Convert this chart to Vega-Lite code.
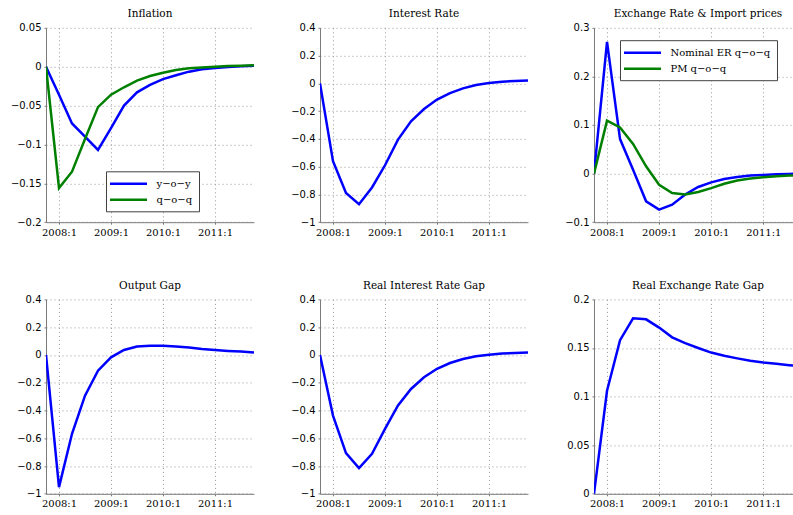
{
  "$schema": "https://vega.github.io/schema/vega-lite/v6.json",
  "padding": {"left": 10, "top": 8.8, "right": 0, "bottom": 0},
  "autosize": {"type": "pad"},
  "background": "white",
  "columns": 3,
  "bounds": "flush",
  "spacing": {"row": 76.6, "column": 66},
  "resolve": {"scale": {"color": "independent"}, "legend": {"color": "independent"}},
  "config": {
    "view": {"stroke": null},
    "font": "DejaVu Sans",
    "title": {"font": "DejaVu Serif", "fontSize": 10.5, "fontWeight": "normal", "baseline": "alphabetic", "offset": 3, "frame": "group", "color": "#000000"},
    "axis": {"domainColor": "#7a7a7a", "domainWidth": 1, "tickColor": "#7a7a7a", "tickSize": 2, "grid": true, "gridColor": "#9a9a9a", "gridDash": [1, 3], "gridOpacity": 1, "gridWidth": 1, "labelColor": "#000000", "labelFlush": false, "labelOverlap": false},
    "axisX": {"labelFont": "DejaVu Serif", "labelFontSize": 10, "labelPadding": 3},
    "axisY": {"labelFont": "DejaVu Sans", "labelFontSize": 10, "labelPadding": 3},
    "legend": {"strokeColor": "#404040", "fillColor": "white", "padding": 6, "labelFont": "DejaVu Serif", "labelFontSize": 10, "labelColor": "#000000", "symbolStrokeWidth": 2.5, "rowPadding": 4}
  },
  "datasets": {
    "inflation": [
      {"t": 0, "series": "y−o−y", "value": 0},
      {"t": 1, "series": "y−o−y", "value": -0.036},
      {"t": 2, "series": "y−o−y", "value": -0.073},
      {"t": 3, "series": "y−o−y", "value": -0.09},
      {"t": 4, "series": "y−o−y", "value": -0.107},
      {"t": 5, "series": "y−o−y", "value": -0.079},
      {"t": 6, "series": "y−o−y", "value": -0.05},
      {"t": 7, "series": "y−o−y", "value": -0.033},
      {"t": 8, "series": "y−o−y", "value": -0.0235},
      {"t": 9, "series": "y−o−y", "value": -0.016},
      {"t": 10, "series": "y−o−y", "value": -0.011},
      {"t": 11, "series": "y−o−y", "value": -0.0064},
      {"t": 12, "series": "y−o−y", "value": -0.0034},
      {"t": 13, "series": "y−o−y", "value": -0.0017},
      {"t": 14, "series": "y−o−y", "value": -0.0004},
      {"t": 15, "series": "y−o−y", "value": 0.0004},
      {"t": 16, "series": "y−o−y", "value": 0.0013},
      {"t": 0, "series": "q−o−q", "value": 0},
      {"t": 1, "series": "q−o−q", "value": -0.156},
      {"t": 2, "series": "q−o−q", "value": -0.135},
      {"t": 3, "series": "q−o−q", "value": -0.093},
      {"t": 4, "series": "q−o−q", "value": -0.052},
      {"t": 5, "series": "q−o−q", "value": -0.036},
      {"t": 6, "series": "q−o−q", "value": -0.0265},
      {"t": 7, "series": "q−o−q", "value": -0.018},
      {"t": 8, "series": "q−o−q", "value": -0.012},
      {"t": 9, "series": "q−o−q", "value": -0.0077},
      {"t": 10, "series": "q−o−q", "value": -0.0043},
      {"t": 11, "series": "q−o−q", "value": -0.0021},
      {"t": 12, "series": "q−o−q", "value": -0.0009},
      {"t": 13, "series": "q−o−q", "value": 0},
      {"t": 14, "series": "q−o−q", "value": 0.0009},
      {"t": 15, "series": "q−o−q", "value": 0.0013},
      {"t": 16, "series": "q−o−q", "value": 0.002}
    ],
    "interest": [
      {"t": 0, "value": 0}, {"t": 1, "value": -0.56}, {"t": 2, "value": -0.79}, {"t": 3, "value": -0.87},
      {"t": 4, "value": -0.75}, {"t": 5, "value": -0.59}, {"t": 6, "value": -0.405}, {"t": 7, "value": -0.273},
      {"t": 8, "value": -0.185}, {"t": 9, "value": -0.117}, {"t": 10, "value": -0.07}, {"t": 11, "value": -0.036},
      {"t": 12, "value": -0.012}, {"t": 13, "value": 0.002}, {"t": 14, "value": 0.012}, {"t": 15, "value": 0.017},
      {"t": 16, "value": 0.02}
    ],
    "exchange": [
      {"t": 0, "series": "Nominal ER q−o−q", "value": 0},
      {"t": 1, "series": "Nominal ER q−o−q", "value": 0.271},
      {"t": 2, "series": "Nominal ER q−o−q", "value": 0.071},
      {"t": 3, "series": "Nominal ER q−o−q", "value": 0.008},
      {"t": 4, "series": "Nominal ER q−o−q", "value": -0.057},
      {"t": 5, "series": "Nominal ER q−o−q", "value": -0.074},
      {"t": 6, "series": "Nominal ER q−o−q", "value": -0.064},
      {"t": 7, "series": "Nominal ER q−o−q", "value": -0.043},
      {"t": 8, "series": "Nominal ER q−o−q", "value": -0.0275},
      {"t": 9, "series": "Nominal ER q−o−q", "value": -0.018},
      {"t": 10, "series": "Nominal ER q−o−q", "value": -0.011},
      {"t": 11, "series": "Nominal ER q−o−q", "value": -0.0069},
      {"t": 12, "series": "Nominal ER q−o−q", "value": -0.0041},
      {"t": 13, "series": "Nominal ER q−o−q", "value": -0.0027},
      {"t": 14, "series": "Nominal ER q−o−q", "value": -0.0014},
      {"t": 15, "series": "Nominal ER q−o−q", "value": -0.0007},
      {"t": 16, "series": "Nominal ER q−o−q", "value": 0},
      {"t": 0, "series": "PM q−o−q", "value": 0},
      {"t": 1, "series": "PM q−o−q", "value": 0.109},
      {"t": 2, "series": "PM q−o−q", "value": 0.095},
      {"t": 3, "series": "PM q−o−q", "value": 0.061},
      {"t": 4, "series": "PM q−o−q", "value": 0.015},
      {"t": 5, "series": "PM q−o−q", "value": -0.023},
      {"t": 6, "series": "PM q−o−q", "value": -0.04},
      {"t": 7, "series": "PM q−o−q", "value": -0.043},
      {"t": 8, "series": "PM q−o−q", "value": -0.038},
      {"t": 9, "series": "PM q−o−q", "value": -0.03},
      {"t": 10, "series": "PM q−o−q", "value": -0.021},
      {"t": 11, "series": "PM q−o−q", "value": -0.0144},
      {"t": 12, "series": "PM q−o−q", "value": -0.0103},
      {"t": 13, "series": "PM q−o−q", "value": -0.0075},
      {"t": 14, "series": "PM q−o−q", "value": -0.0055},
      {"t": 15, "series": "PM q−o−q", "value": -0.0041},
      {"t": 16, "series": "PM q−o−q", "value": -0.003}
    ],
    "output": [
      {"t": 0, "value": 0}, {"t": 1, "value": -0.952}, {"t": 2, "value": -0.568}, {"t": 3, "value": -0.293},
      {"t": 4, "value": -0.113}, {"t": 5, "value": -0.017}, {"t": 6, "value": 0.036}, {"t": 7, "value": 0.06},
      {"t": 8, "value": 0.067}, {"t": 9, "value": 0.067}, {"t": 10, "value": 0.06}, {"t": 11, "value": 0.053},
      {"t": 12, "value": 0.043}, {"t": 13, "value": 0.036}, {"t": 14, "value": 0.029}, {"t": 15, "value": 0.024},
      {"t": 16, "value": 0.017}
    ],
    "realrate": [
      {"t": 0, "value": 0}, {"t": 1, "value": -0.437}, {"t": 2, "value": -0.707}, {"t": 3, "value": -0.815},
      {"t": 4, "value": -0.712}, {"t": 5, "value": -0.532}, {"t": 6, "value": -0.364}, {"t": 7, "value": -0.245},
      {"t": 8, "value": -0.161}, {"t": 9, "value": -0.1}, {"t": 10, "value": -0.058}, {"t": 11, "value": -0.029},
      {"t": 12, "value": -0.01}, {"t": 13, "value": 0.002}, {"t": 14, "value": 0.01}, {"t": 15, "value": 0.014},
      {"t": 16, "value": 0.017}
    ],
    "realex": [
      {"t": 0, "value": 0}, {"t": 1, "value": 0.106}, {"t": 2, "value": 0.158}, {"t": 3, "value": 0.1805},
      {"t": 4, "value": 0.1795}, {"t": 5, "value": 0.171}, {"t": 6, "value": 0.161}, {"t": 7, "value": 0.155},
      {"t": 8, "value": 0.15}, {"t": 9, "value": 0.1453}, {"t": 10, "value": 0.142}, {"t": 11, "value": 0.1393},
      {"t": 12, "value": 0.1368}, {"t": 13, "value": 0.1351}, {"t": 14, "value": 0.1337}, {"t": 15, "value": 0.1323},
      {"t": 16, "value": 0.131}
    ]
  },
  "concat": [
    {
      "data": {"name": "inflation"},
      "width": 208, "height": 194.4,
      "title": {"text": "Inflation"},
      "mark": {"type": "line", "strokeWidth": 2.5, "clip": true},
      "encoding": {
        "x": {"field": "t", "type": "quantitative", "title": null, "scale": {"domain": [0, 16], "nice": false, "zero": false},
              "axis": {"values": [1, 5, 9, 13], "labelExpr": "(2008 + (datum.value - 1) / 4) + ':1'"}},
        "y": {"field": "value", "type": "quantitative", "title": null, "scale": {"domain": [-0.2, 0.05], "nice": false, "zero": false},
              "axis": {"values": [-0.2, -0.15, -0.1, -0.05, 0, 0.05], "format": "~g"}},
        "color": {"field": "series", "type": "nominal",
                  "scale": {"domain": ["y−o−y", "q−o−q"], "range": ["#0000ff", "#008000"]},
                  "legend": {"title": null, "orient": "none", "legendX": 60, "legendY": 143.5, "symbolType": "M-2.7,0H4.7", "symbolSize": 100, "symbolOffset": 5, "labelOffset": 26.5}}
      }
    },
    {
      "data": {"name": "interest"},
      "width": 208, "height": 194.4,
      "title": {"text": "Interest Rate"},
      "mark": {"type": "line", "strokeWidth": 2.5, "color": "#0000ff", "clip": true},
      "encoding": {
        "x": {"field": "t", "type": "quantitative", "title": null, "scale": {"domain": [0, 16], "nice": false, "zero": false},
              "axis": {"values": [1, 5, 9, 13], "labelExpr": "(2008 + (datum.value - 1) / 4) + ':1'"}},
        "y": {"field": "value", "type": "quantitative", "title": null, "scale": {"domain": [-1, 0.4], "nice": false, "zero": false},
              "axis": {"values": [-1, -0.8, -0.6, -0.4, -0.2, 0, 0.2, 0.4], "format": "~g"}}
      }
    },
    {
      "data": {"name": "exchange"},
      "width": 199, "height": 194.4,
      "title": {"text": "Exchange Rate & Import prices", "dx": 4.5},
      "mark": {"type": "line", "strokeWidth": 2.5, "clip": true},
      "encoding": {
        "x": {"field": "t", "type": "quantitative", "title": null, "scale": {"domain": [0, 15.28], "nice": false, "zero": false},
              "axis": {"values": [1, 5, 9, 13], "labelExpr": "(2008 + (datum.value - 1) / 4) + ':1'"}},
        "y": {"field": "value", "type": "quantitative", "title": null, "scale": {"domain": [-0.1, 0.3], "nice": false, "zero": false},
              "axis": {"values": [-0.1, 0, 0.1, 0.2, 0.3], "format": "~g"}},
        "color": {"field": "series", "type": "nominal",
                  "scale": {"domain": ["Nominal ER q−o−q", "PM q−o−q"], "range": ["#0000ff", "#008000"]},
                  "legend": {"title": null, "orient": "none", "legendX": 26, "legendY": 12.4, "symbolType": "M-2.7,0H4.7", "symbolSize": 100, "symbolOffset": 5, "labelOffset": 26.5}}
      }
    },
    {
      "data": {"name": "output"},
      "width": 208, "height": 194.4,
      "title": {"text": "Output Gap"},
      "mark": {"type": "line", "strokeWidth": 2.5, "color": "#0000ff", "clip": true},
      "encoding": {
        "x": {"field": "t", "type": "quantitative", "title": null, "scale": {"domain": [0, 16], "nice": false, "zero": false},
              "axis": {"values": [1, 5, 9, 13], "labelExpr": "(2008 + (datum.value - 1) / 4) + ':1'"}},
        "y": {"field": "value", "type": "quantitative", "title": null, "scale": {"domain": [-1, 0.4], "nice": false, "zero": false},
              "axis": {"values": [-1, -0.8, -0.6, -0.4, -0.2, 0, 0.2, 0.4], "format": "~g"}}
      }
    },
    {
      "data": {"name": "realrate"},
      "width": 208, "height": 194.4,
      "title": {"text": "Real Interest Rate Gap"},
      "mark": {"type": "line", "strokeWidth": 2.5, "color": "#0000ff", "clip": true},
      "encoding": {
        "x": {"field": "t", "type": "quantitative", "title": null, "scale": {"domain": [0, 16], "nice": false, "zero": false},
              "axis": {"values": [1, 5, 9, 13], "labelExpr": "(2008 + (datum.value - 1) / 4) + ':1'"}},
        "y": {"field": "value", "type": "quantitative", "title": null, "scale": {"domain": [-1, 0.4], "nice": false, "zero": false},
              "axis": {"values": [-1, -0.8, -0.6, -0.4, -0.2, 0, 0.2, 0.4], "format": "~g"}}
      }
    },
    {
      "data": {"name": "realex"},
      "width": 199, "height": 194.4,
      "title": {"text": "Real Exchange Rate Gap", "dx": 4.5},
      "mark": {"type": "line", "strokeWidth": 2.5, "color": "#0000ff", "clip": true},
      "encoding": {
        "x": {"field": "t", "type": "quantitative", "title": null, "scale": {"domain": [0, 15.28], "nice": false, "zero": false},
              "axis": {"values": [1, 5, 9, 13], "labelExpr": "(2008 + (datum.value - 1) / 4) + ':1'"}},
        "y": {"field": "value", "type": "quantitative", "title": null, "scale": {"domain": [0, 0.2], "nice": false, "zero": false},
              "axis": {"values": [0, 0.05, 0.1, 0.15, 0.2], "format": "~g"}}
      }
    }
  ]
}
